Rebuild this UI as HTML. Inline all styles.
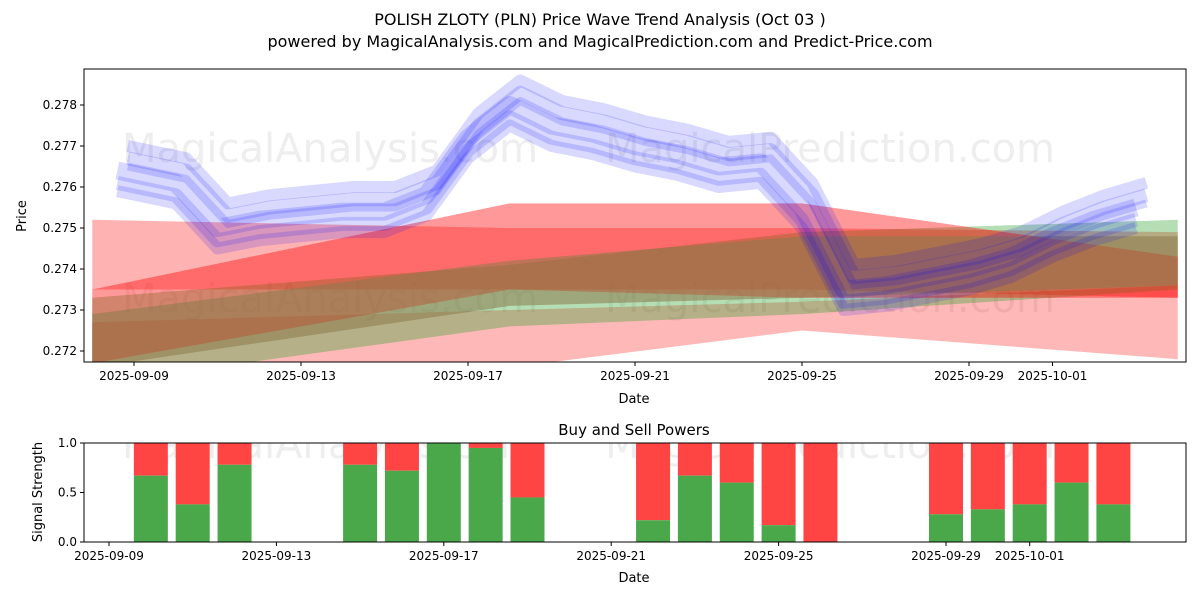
<!DOCTYPE html>
<html><head><meta charset="utf-8"><style>
body{margin:0;background:#fff;font-family:"Liberation Sans","DejaVu Sans",sans-serif}
svg text{font-family:"DejaVu Sans","Liberation Sans",sans-serif}
</style></head><body>
<svg id="c" width="1200" height="600" viewBox="0 0 1200 600">
<rect width="1200" height="600" fill="#fff"/>
<defs>
<clipPath id="cp1"><rect x="84" y="69" width="1102" height="293"/></clipPath>
<clipPath id="cp2"><rect x="84" y="443" width="1102" height="99"/></clipPath>
</defs>
<text x="600" y="25" text-anchor="middle" font-size="16">POLISH ZLOTY (PLN) Price Wave Trend Analysis (Oct 03 )</text>
<text x="600" y="47" text-anchor="middle" font-size="16">powered by MagicalAnalysis.com and MagicalPrediction.com and Predict-Price.com</text>
<g id="top" clip-path="url(#cp1)"></g>
<g id="topAxes"></g>
<g id="bot" clip-path="url(#cp2)"></g>
<g id="botAxes"></g>
</svg>
<script>
// ===== data =====
const blueDays=[-0.4,1,2,3,4,5,6,7,8,9,10,11,12,13,14,15,16,17,18,19,20,21,22,23,24];
const blueVals=[0.2764,0.2761,0.2750,0.2752,0.2753,0.2754,0.2754,0.2758,0.2772,0.2780,0.2775,0.2773,0.2770,0.2768,0.2765,0.2766,0.2755,0.2735,0.2736,0.2738,0.2740,0.2743,0.2748,0.2752,0.2755];
const blueOffsets=[0,0.0003,-0.0003,0.0006,-0.0005,0.0001];
const bandDays=[-1,9,16,25];
const red1Up=[0.2752,0.2750,0.2750,0.2749];
const red1Lo=[0.2735,0.2735,0.2735,0.2733];
const red2Up=[0.2735,0.2756,0.2756,0.2743];
const red2Lo=[0.2717,0.2735,0.2733,0.2733];
const red3Up=[0.2727,0.2730,0.2732,0.2736];
const red3Lo=[0.2712,0.2716,0.2725,0.2718];
const greenUp=[0.2733,0.2741,0.2749,0.2752];
const greenLo=[0.2712,0.2726,0.2729,0.2735];
const oliveUp=[0.2729,0.2742,0.2748,0.2748];
const oliveLo=[0.2716,0.2731,0.2733,0.2736];
const yTicks=[0.272,0.273,0.274,0.275,0.276,0.277,0.278];
const xTickDays=[0,4,8,12,16,20,22];
const xTickLabels=["2025-09-09","2025-09-13","2025-09-17","2025-09-21","2025-09-25","2025-09-29","2025-10-01"];
const barDays=[1,2,3,6,7,8,9,10,13,14,15,16,17,20,21,22,23,24];
const buyVals=[0.67,0.38,0.78,0.78,0.72,1.0,0.95,0.45,0.22,0.67,0.6,0.17,0.0,0.28,0.33,0.38,0.6,0.38];
const sigTicks=[0,0.5,1.0];

const NS="http://www.w3.org/2000/svg";
function mk(t,a,p){const e=document.createElementNS(NS,t);for(const k in a)e.setAttribute(k,a[k]);p.appendChild(e);return e;}
const X=d=>134+d*41.75, Y=v=>351-(v-0.272)*41000;
const X2=d=>109+d*41.85, Y2=v=>542-v*99;
const topG=document.getElementById('top'),ta=document.getElementById('topAxes');
const botG=document.getElementById('bot'),ba=document.getElementById('botAxes');

// watermarks
[[330,162],[830,162],[330,312],[830,312]].forEach(p=>{const t=mk('text',{x:p[0],y:p[1],'text-anchor':'middle','font-size':40,fill:'#ddd','fill-opacity':0.5},topG);t.textContent=p[0]<600?'MagicalAnalysis.com':'MagicalPrediction.com';

});

function band(up,lo,col,op,name){
  let pts=bandDays.map((d,i)=>X(d)+','+Y(up[i])).concat(bandDays.map((d,i)=>X(d)+','+Y(lo[i])).reverse());
  const p=mk('polygon',{points:pts.join(' '),fill:col,'fill-opacity':op},topG);
  
  
}
band(red3Up,red3Lo,'#ff0000',0.28,'red-band-lower');
band(red1Up,red1Lo,'#ff0000',0.3,'red-band-upper');
band(greenUp,greenLo,'#2ca02c',0.35,'green-band');
band(red2Up,red2Lo,'#ff0000',0.4,'red-band-rising');
band(oliveUp,oliveLo,'#8b7a4a',0.55,'olive-band');

blueOffsets.forEach((o,k)=>{
  const d=blueDays.map((dd,i)=>(i?'L':'M')+X(dd+(k%2?0.25:0))+' '+Y(blueVals[i]+o)).join(' ');
  const p=mk('path',{d:d,fill:'none',stroke:'#0000ff','stroke-opacity':0.15,'stroke-width':[18,14,14,12,12,8][k],'stroke-linejoin':'round'},topG);
  
  
});

// top axes
mk('rect',{x:84,y:69,width:1102,height:293,fill:'none',stroke:'#000','stroke-width':1},ta);
yTicks.forEach(v=>{const y=Y(v);mk('line',{x1:80,x2:84,y1:y,y2:y,stroke:'#000'},ta);const t=mk('text',{x:77,y:y+4,'text-anchor':'end','font-size':12},ta);t.textContent=v.toFixed(3);

});
xTickDays.forEach((d,i)=>{const x=X(d);mk('line',{x1:x,x2:x,y1:362,y2:366,stroke:'#000'},ta);const t=mk('text',{x:x,y:380,'text-anchor':'middle','font-size':12},ta);t.textContent=xTickLabels[i];

});
let t=mk('text',{x:634,y:403,'text-anchor':'middle','font-size':13},ta);t.textContent='Date';


t=mk('text',{x:26,y:216,'text-anchor':'middle','font-size':13,transform:'rotate(-90 26 216)'},ta);t.textContent='Price';



// bottom
[[330,458],[830,458]].forEach((p,i)=>{const w=mk('text',{x:p[0],y:p[1],'text-anchor':'middle','font-size':40,fill:'#ddd','fill-opacity':0.5},botG);w.textContent=i?'MagicalPrediction.com':'MagicalAnalysis.com';

});
barDays.forEach((d,i)=>{const cx=X2(d),w=34,b=buyVals[i];
  const r=mk('rect',{x:cx-w/2,y:Y2(1),width:w,height:Y2(b)-Y2(1),fill:'#ff4444'},botG);
  
  
  const g=mk('rect',{x:cx-w/2,y:Y2(b),width:w,height:Y2(0)-Y2(b),fill:'#4aa84a'},botG);
  
  
});
mk('rect',{x:84,y:443,width:1102,height:99,fill:'none',stroke:'#000'},ba);
sigTicks.forEach(v=>{const y=Y2(v);mk('line',{x1:80,x2:84,y1:y,y2:y,stroke:'#000'},ba);const s=mk('text',{x:77,y:y+4,'text-anchor':'end','font-size':12},ba);s.textContent=v.toFixed(1);

});
xTickDays.forEach((d,i)=>{const x=X2(d);mk('line',{x1:x,x2:x,y1:542,y2:546,stroke:'#000'},ba);const s=mk('text',{x:x,y:560,'text-anchor':'middle','font-size':12},ba);s.textContent=xTickLabels[i];

});
t=mk('text',{x:634,y:582,'text-anchor':'middle','font-size':13},ba);t.textContent='Date';


t=mk('text',{x:634,y:435,'text-anchor':'middle','font-size':15},ba);t.textContent='Buy and Sell Powers';


t=mk('text',{x:42,y:492,'text-anchor':'middle','font-size':13,transform:'rotate(-90 42 492)'},ba);t.textContent='Signal Strength';


</script>
</body></html>
